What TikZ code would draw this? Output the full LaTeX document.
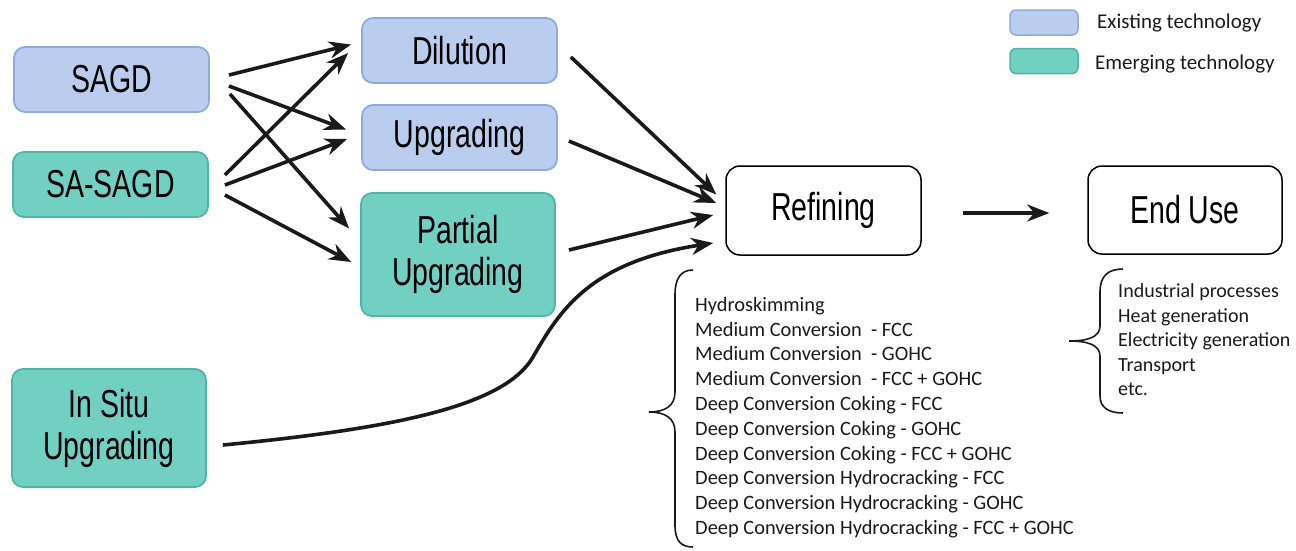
\documentclass[tikz,border=0pt]{standalone}
\usepackage{fontspec}
\setmainfont{Carlito}
\newfontfamily\condfont[FakeStretch=0.73]{Liberation Sans}
\usetikzlibrary{arrows.meta,calc}
\definecolor{exfill}{HTML}{BBCDEE}
\definecolor{exline}{HTML}{8EAADF}
\definecolor{emfill}{HTML}{72D0C3}
\definecolor{emline}{HTML}{4DB6A6}
\definecolor{ink}{HTML}{1A1A1A}
\begin{document}
\begin{tikzpicture}[x=1pt,y=-1pt,
  box/.style={rounded corners=11pt, line width=1.8pt, align=center, inner sep=0pt,
    text=black, font=\condfont\fontsize{39}{42}\selectfont},
  existing/.style={box, fill=exfill, draw=exline},
  emerging/.style={box, fill=emfill, draw=emline},
  stage/.style={box, draw=black, fill=white, line width=1.5pt, rounded corners=14pt,
    font=\condfont\fontsize{39}{42}\selectfont},
  keybox/.style={line width=1.5pt, rounded corners=6pt, minimum width=68pt,
    minimum height=25pt, inner sep=0pt},
  keytext/.style={anchor=west, inner sep=0pt, text=ink, font=\fontsize{21}{25}\selectfont},
  listtext/.style={anchor=west, inner sep=0pt, align=left, text=ink},
  flow/.style={draw=ink, line width=3.6pt, -{Stealth[length=22pt,width=17pt,inset=7pt]}},
  brace/.style={draw=ink, line width=1.6pt}
]
\useasboundingbox (0,0) rectangle (1296,550);

% sources
\node[existing, minimum width=195pt, minimum height=65pt] (sagd) at (111.5,79.5) {SAGD};
\node[emerging, minimum width=195pt, minimum height=65pt] (sas) at (110.5,184.5) {SA-SAGD};
\node[emerging, minimum width=194pt, minimum height=118pt] (insitu) at (109,428) {In Situ\\Upgrading};

% transport / upgrading routes
\node[existing, minimum width=195pt, minimum height=65pt] (dil) at (459.5,50.5) {Dilution};
\node[existing, minimum width=195pt, minimum height=65pt] (upg) at (459.5,137.5) {Upgrading};
\node[emerging, minimum width=194pt, minimum height=123pt] (par) at (458,254.5) {Partial\\Upgrading};

% downstream stages
\node[stage, minimum width=195pt, minimum height=89pt] (ref) at (823.5,210.5) {Refining};
\node[stage, minimum width=194pt, minimum height=88pt] (end) at (1185,210) {End Use};

% key
\node[keybox, fill=exfill, draw=exline] (keyex) at (1044,22.5) {};
\node[keybox, fill=emfill, draw=emline] (keyem) at (1044,61) {};
\node[keytext] (keyextext) at (1097,23) {Existing technology};
\node[keytext] (keyemtext) at (1095,64) {Emerging technology};

% source -> route arrows
\draw[flow] ($(sagd.east)+(19,-4.5)$) -- ($(dil.west)+(-10,-6)$);
\draw[flow] ($(sagd.east)+(19,6.5)$) -- ($(upg.west)+(-15,-8)$);
\draw[flow] ($(sagd.east)+(20,14.5)$) -- ($(par.west)+(-11,-26)$);
\draw[flow] ($(sas.east)+(16,-9.5)$) -- ($(dil.west)+(-13,2.5)$);
\draw[flow] ($(sas.east)+(16,0.5)$) -- ($(upg.west)+(-14,1.5)$);
\draw[flow] ($(sas.east)+(16,10.5)$) -- ($(par.west)+(-9,7.5)$);

% route -> refining arrows
\draw[flow] ($(dil.east)+(13,6.5)$) -- ($(ref.west)+(-9,-16)$);
\draw[flow] ($(upg.east)+(11,3.5)$) -- ($(ref.west)+(-9,-7.5)$);
\draw[flow] ($(par.east)+(13,-4.5)$) -- ($(ref.west)+(-12,4.5)$);
\draw[flow] ($(insitu.east)+(16,17)$) .. controls (400,428) and (505,405) ..
  (533,357) .. controls (560,310) and (590,262) .. ($(ref.west)+(-12,32.5)$);

% refining -> end use
\draw[flow] ($(ref.east)+(41,2.5)$) -- ($(end.west)+(-38,3)$);

% refinery configurations
\draw[brace] (693,270) .. controls (681,270) and (675,278) .. (675,295) -- (675,392)
  .. controls (675,406) and (665,412) .. (649,412)
  .. controls (665,412) and (675,418) .. (675,432) -- (675,525)
  .. controls (675,541) and (681,547) .. (693,547);
\node[listtext, font=\fontsize{20.4}{24.8}\selectfont] (reflist) at (695,417.5) {%
Hydroskimming\\
Medium Conversion~ - FCC\\
Medium Conversion~ - GOHC\\
Medium Conversion~ - FCC + GOHC\\
Deep Conversion Coking - FCC\\
Deep Conversion Coking - GOHC\\
Deep Conversion Coking - FCC + GOHC\\
Deep Conversion Hydrocracking - FCC\\
Deep Conversion Hydrocracking - GOHC\\
Deep Conversion Hydrocracking - FCC + GOHC};

% end uses
\draw[brace] (1123,269) .. controls (1108,269) and (1100,276) .. (1100,292) -- (1100,326)
  .. controls (1100,337) and (1088,341) .. (1069,341)
  .. controls (1088,341) and (1100,345) .. (1100,356) -- (1100,396)
  .. controls (1100,407) and (1108,413) .. (1123,413);
\node[listtext, font=\fontsize{20}{24.5}\selectfont] (uselist) at (1118,340) {%
Industrial processes\\
Heat generation\\
Electricity generation\\
Transport\\
etc.};
\end{tikzpicture}
\end{document}
